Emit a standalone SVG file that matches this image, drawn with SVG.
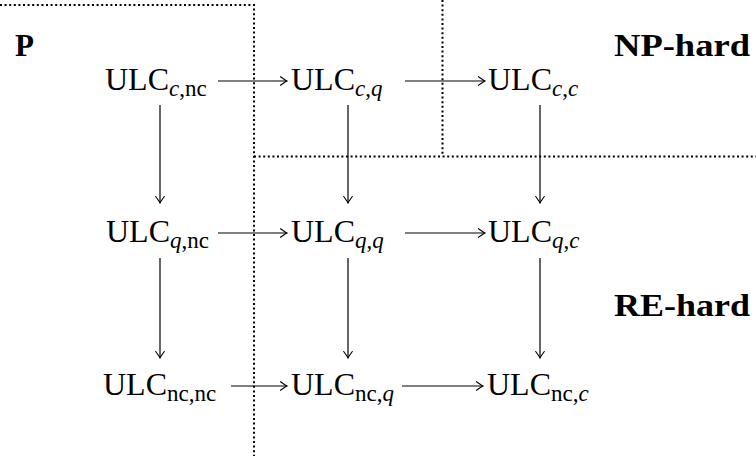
<svg xmlns="http://www.w3.org/2000/svg" width="756" height="456" viewBox="0 0 756 456">
<defs>
<marker id="to" viewBox="-8 -5 10 10" refX="0" refY="0" markerWidth="10" markerHeight="10" markerUnits="userSpaceOnUse" orient="auto">
<path d="M -6.5,-4.3 Q -1.8,-0.9 0,0 Q -1.8,0.9 -6.5,4.3" fill="none" stroke="#000" stroke-width="1.1" stroke-linecap="round"/>
</marker>
<style>
.n{font-family:"Liberation Serif","Times New Roman",serif;font-size:32px;fill:#000}
.s{font-size:23px}
.i{font-style:italic}
.b{font-family:"Liberation Serif","Times New Roman",serif;font-size:31px;font-weight:bold;fill:#000}
.a{stroke:#000;stroke-width:1.2;fill:none;marker-end:url(#to)}
.d{stroke:#000;stroke-width:2;fill:none;stroke-dasharray:2 2.6}
</style>
</defs>
<rect width="756" height="456" fill="#fff"/>
<g id="regions">
<path class="d" d="M 0,5 H 254 V 456"/>
<path class="d" d="M 254,156.5 H 756"/>
<path class="d" d="M 442.5,0 V 156.5"/>
</g>
<g id="labels">
<text class="b" x="15" y="56">P</text>
<text class="b" x="750" y="56" text-anchor="end" textLength="136" lengthAdjust="spacingAndGlyphs">NP-hard</text>
<text class="b" x="750" y="316" text-anchor="end" textLength="136" lengthAdjust="spacingAndGlyphs">RE-hard</text>
</g>
<g id="connectors">
<line class="a" x1="218" y1="81" x2="287" y2="81"/>
<line class="a" x1="405" y1="81" x2="485" y2="81"/>
<line class="a" x1="218" y1="233" x2="287" y2="233"/>
<line class="a" x1="405" y1="233" x2="485" y2="233"/>
<line class="a" x1="231" y1="386" x2="287" y2="386"/>
<line class="a" x1="402" y1="386" x2="483" y2="386"/>
<line class="a" x1="160" y1="105" x2="160" y2="203"/>
<line class="a" x1="348" y1="105" x2="348" y2="203"/>
<line class="a" x1="540" y1="105" x2="540" y2="203"/>
<line class="a" x1="160" y1="258" x2="160" y2="358"/>
<line class="a" x1="348" y1="258" x2="348" y2="358"/>
<line class="a" x1="540" y1="258" x2="540" y2="358"/>
</g>
<g id="n11"><text class="n" x="105" y="90">ULC<tspan class="s" dy="6"><tspan class="i">c</tspan>,nc</tspan></text></g>
<g id="n12"><text class="n" x="291" y="90">ULC<tspan class="s" dy="6"><tspan class="i">c</tspan>,<tspan class="i">q</tspan></tspan></text></g>
<g id="n13"><text class="n" x="488" y="90">ULC<tspan class="s" dy="6"><tspan class="i">c</tspan>,<tspan class="i">c</tspan></tspan></text></g>
<g id="n21"><text class="n" x="106" y="242">ULC<tspan class="s" dy="6"><tspan class="i">q</tspan>,nc</tspan></text></g>
<g id="n22"><text class="n" x="291" y="242">ULC<tspan class="s" dy="6"><tspan class="i">q</tspan>,<tspan class="i">q</tspan></tspan></text></g>
<g id="n23"><text class="n" x="488" y="242">ULC<tspan class="s" dy="6"><tspan class="i">q</tspan>,<tspan class="i">c</tspan></tspan></text></g>
<g id="n31"><text class="n" x="103" y="395">ULC<tspan class="s" dy="6">nc,nc</tspan></text></g>
<g id="n32"><text class="n" x="291" y="395">ULC<tspan class="s" dy="6">nc,<tspan class="i">q</tspan></tspan></text></g>
<g id="n33"><text class="n" x="487" y="395">ULC<tspan class="s" dy="6">nc,<tspan class="i">c</tspan></tspan></text></g>
</svg>
